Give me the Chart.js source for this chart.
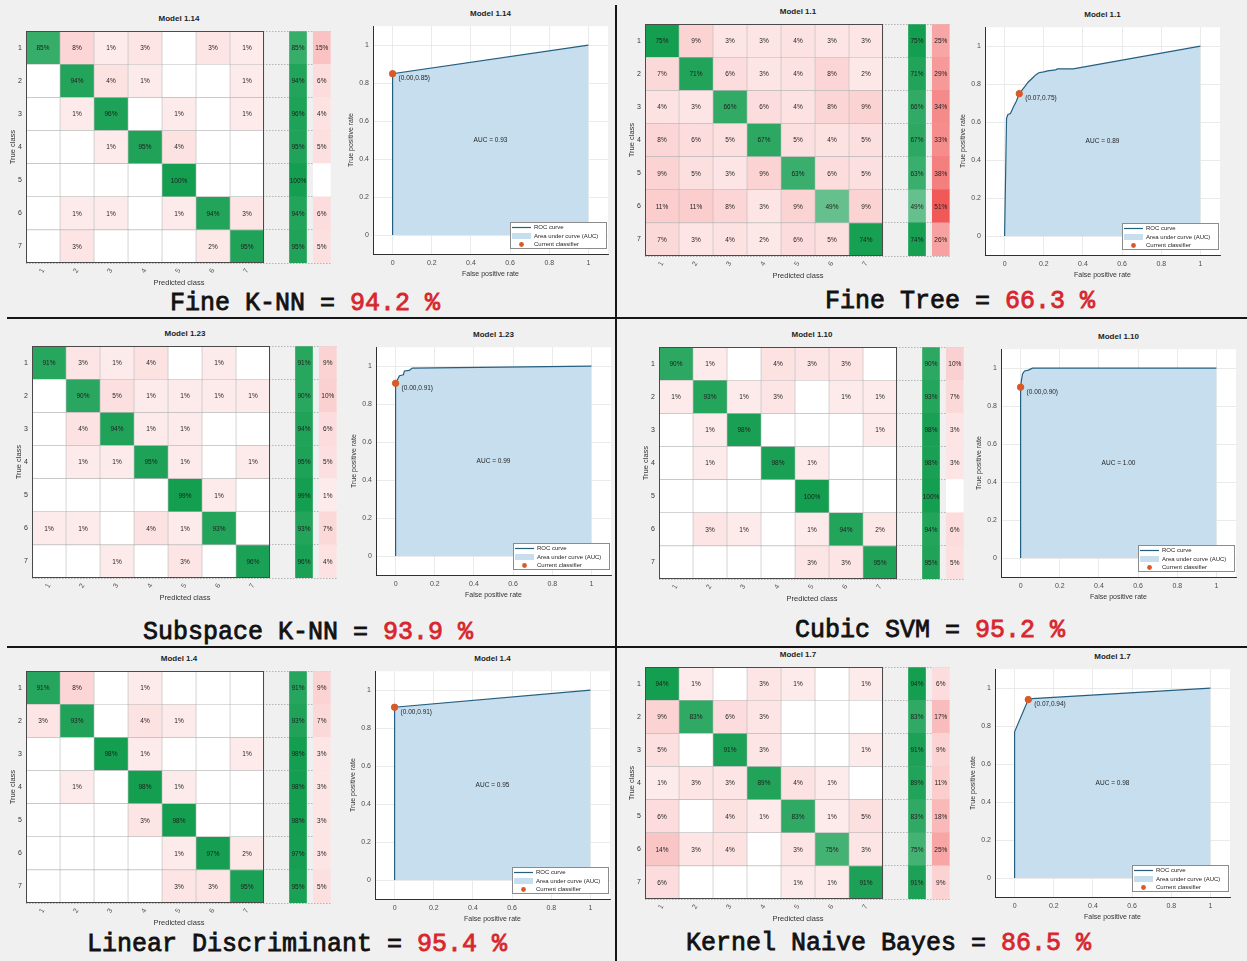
<!DOCTYPE html>
<html><head><meta charset="utf-8"><title>Classifier comparison</title>
<script src="https://cdn.jsdelivr.net/npm/chart.js"></script>
<style>
html,body{margin:0;padding:0;}
body{width:1247px;height:961px;background:#f0f0f0;position:relative;overflow:hidden;font-family:'Liberation Sans',Arial,sans-serif;}
canvas{position:absolute;}
.ttl{position:absolute;font-size:8px;font-weight:bold;color:#1e1e1e;transform:translate(-50%,-50%);white-space:nowrap;line-height:1;}
.cap{position:absolute;font-family:'Liberation Mono','DejaVu Sans Mono',monospace;font-weight:normal;-webkit-text-stroke:0.8px #111;font-size:25px;color:#111;white-space:nowrap;transform:translateY(-50%);line-height:1;}
.cap span{color:#d7262e;-webkit-text-stroke:0.8px #d7262e;}
.rule{position:absolute;background:#161616;}
</style></head>
<body>
<script>
// ---------------- DATA ----------------
const CLASS_LABELS = ['1','2','3','4','5','6','7'];
const ROC_TICKS = [0, 0.2, 0.4, 0.6, 0.8, 1];
const LEGEND_LABELS = ['ROC curve', 'Area under curve (AUC)', 'Current classifier'];

const CLASSIFIERS = ['Fine K-NN', 'Fine Tree', 'Subspace K-NN', 'Cubic SVM', 'Linear Discriminant', 'Kernel Naive Bayes'];
const ACCURACY = [94.2, 66.3, 93.9, 95.2, 95.4, 86.5];
const MODEL_NAMES = ['Model 1.14', 'Model 1.1', 'Model 1.23', 'Model 1.10', 'Model 1.4', 'Model 1.7'];
const AUC = [0.93, 0.89, 0.99, 1.00, 0.95, 0.98];

// Confusion matrices (% of true class row), null = empty cell
const CM_FINE_KNN = [
  [85, 8, 1, 3, null, 3, 1],
  [null, 94, 4, 1, null, null, 1],
  [null, 1, 96, null, 1, null, 1],
  [null, null, 1, 95, 4, null, null],
  [null, null, null, null, 100, null, null],
  [null, 1, 1, null, 1, 94, 3],
  [null, 3, null, null, null, 2, 95]
];
const TPR_FINE_KNN = [85, 94, 96, 95, 100, 94, 95];
const FNR_FINE_KNN = [15, 6, 4, 5, null, 6, 5];

const CM_FINE_TREE = [
  [75, 9, 3, 3, 4, 3, 3],
  [7, 71, 6, 3, 4, 8, 2],
  [4, 3, 66, 6, 4, 8, 9],
  [8, 6, 5, 67, 5, 4, 5],
  [9, 5, 3, 9, 63, 6, 5],
  [11, 11, 8, 3, 9, 49, 9],
  [7, 3, 4, 2, 6, 5, 74]
];
const TPR_FINE_TREE = [75, 71, 66, 67, 63, 49, 74];
const FNR_FINE_TREE = [25, 29, 34, 33, 38, 51, 26];

const CM_SUBSPACE_KNN = [
  [91, 3, 1, 4, null, 1, null],
  [null, 90, 5, 1, 1, 1, 1],
  [null, 4, 94, 1, 1, null, null],
  [null, 1, 1, 95, 1, null, 1],
  [null, null, null, null, 99, 1, null],
  [1, 1, null, 4, 1, 93, null],
  [null, null, 1, null, 3, null, 96]
];
const TPR_SUBSPACE_KNN = [91, 90, 94, 95, 99, 93, 96];
const FNR_SUBSPACE_KNN = [9, 10, 6, 5, 1, 7, 4];

const CM_CUBIC_SVM = [
  [90, 1, null, 4, 3, 3, null],
  [1, 93, 1, 3, null, 1, 1],
  [null, 1, 98, null, null, null, 1],
  [null, 1, null, 98, 1, null, null],
  [null, null, null, null, 100, null, null],
  [null, 3, 1, null, 1, 94, 2],
  [null, null, null, null, 3, 3, 95]
];
const TPR_CUBIC_SVM = [90, 93, 98, 98, 100, 94, 95];
const FNR_CUBIC_SVM = [10, 7, 3, 3, null, 6, 5];

const CM_LINEAR_DISC = [
  [91, 8, null, 1, null, null, null],
  [3, 93, null, 4, 1, null, null],
  [null, null, 98, 1, null, null, 1],
  [null, 1, null, 98, 1, null, null],
  [null, null, null, 3, 98, null, null],
  [null, null, null, null, 1, 97, 2],
  [null, null, null, null, 3, 3, 95]
];
const TPR_LINEAR_DISC = [91, 93, 98, 98, 98, 97, 95];
const FNR_LINEAR_DISC = [9, 7, 3, 3, 3, 3, 5];

const CM_KERNEL_NB = [
  [94, 1, null, 3, 1, null, 1],
  [9, 83, 6, 3, null, null, null],
  [5, null, 91, 3, null, null, 1],
  [1, 3, 3, 89, 4, 1, null],
  [6, null, 4, 1, 83, 1, 5],
  [14, 3, 4, null, 3, 75, 3],
  [6, null, null, null, 1, 1, 91]
];
const TPR_KERNEL_NB = [94, 83, 91, 89, 83, 75, 91];
const FNR_KERNEL_NB = [6, 17, 9, 11, 18, 25, 9];

// ROC curves (class 1 positive)
const ROC_FPR_FINE_KNN = [0, 0, 1];
const ROC_TPR_FINE_KNN = [0, 0.85, 1];
const OP_FINE_KNN = [0.00, 0.85];

const ROC_FPR_FINE_TREE = [0, 0.01, 0.017, 0.03, 0.045, 0.06, 0.075, 0.09, 0.105, 0.12, 0.14, 0.16, 0.175, 0.2, 0.22, 0.26, 0.27, 0.35, 1];
const ROC_TPR_FINE_TREE = [0, 0.62, 0.64, 0.645, 0.68, 0.71, 0.75, 0.77, 0.79, 0.81, 0.83, 0.85, 0.86, 0.865, 0.87, 0.875, 0.88, 0.88, 1];
const OP_FINE_TREE = [0.075, 0.75];

const ROC_FPR_SUBSPACE_KNN = [0, 0, 0.01, 0.02, 0.04, 0.045, 0.07, 0.085, 1];
const ROC_TPR_SUBSPACE_KNN = [0, 0.91, 0.93, 0.95, 0.955, 0.975, 0.978, 0.99, 1];
const OP_SUBSPACE_KNN = [0.00, 0.91];

const ROC_FPR_CUBIC_SVM = [0, 0, 0.005, 0.01, 0.02, 0.04, 0.06, 1];
const ROC_TPR_CUBIC_SVM = [0, 0.90, 0.94, 0.97, 0.985, 0.99, 1, 1];
const OP_CUBIC_SVM = [0.00, 0.90];

const ROC_FPR_LINEAR_DISC = [0, 0, 1];
const ROC_TPR_LINEAR_DISC = [0, 0.91, 1];
const OP_LINEAR_DISC = [0.00, 0.91];

const ROC_FPR_KERNEL_NB = [0, 0, 0.07, 0.09, 1];
const ROC_TPR_KERNEL_NB = [0, 0.77, 0.94, 0.945, 1];
const OP_KERNEL_NB = [0.07, 0.94];

// ---------------- LAYOUT / STYLE ----------------
const FONT = "'Liberation Sans', Arial, sans-serif";
const GREEN = [20, 158, 80];
const RED = [240, 80, 80];
const ROC_LINE = '#245f80';
const AUC_FILL = '#c6deee';
const OP_COLOR = '#d85a28';

const CM_POS = [
  {left: 26, top: 25}, {left: 645, top: 18},
  {left: 32, top: 340}, {left: 659, top: 341},
  {left: 26, top: 665}, {left: 645, top: 661}
];
const ROC_POS = [
  {left: 373, top: 20}, {left: 985, top: 21},
  {left: 376, top: 341}, {left: 1001, top: 343},
  {left: 375, top: 665}, {left: 995, top: 663}
];
const CAP_POS = [
  {left: 170, top: 303}, {left: 825, top: 301},
  {left: 143, top: 632}, {left: 795, top: 630},
  {left: 87, top: 944}, {left: 686, top: 943}
];

Chart.defaults.font.family = FONT;

function addCanvas(x, y, w, h) {
  const c = document.createElement('canvas');
  c.width = w; c.height = h;
  c.style.left = x + 'px'; c.style.top = y + 'px';
  c.style.width = w + 'px'; c.style.height = h + 'px';
  document.body.appendChild(c);
  return c;
}
function addDiv(cls, html, x, y, extra) {
  const d = document.createElement('div');
  d.className = cls; d.innerHTML = html;
  d.style.left = x + 'px'; d.style.top = y + 'px';
  if (extra) Object.assign(d.style, extra);
  document.body.appendChild(d);
  return d;
}
function mix(c, a) {
  a = Math.max(0, Math.min(1, a));
  return `rgb(${Math.round(255 + (c[0] - 255) * a)},${Math.round(255 + (c[1] - 255) * a)},${Math.round(255 + (c[2] - 255) * a)})`;
}
const greenOf = (v, m) => v == null ? '#ffffff' : mix(GREEN, v / m);
const redOf = v => v == null ? '#ffffff' : mix(RED, 0.1 + v / 60);
const pct = v => v == null ? '' : v + '%';

// ---------------- PLUGINS ----------------
const cellPlugin = {
  id: 'cellDecor',
  afterDatasetsDraw(chart) {
    const {ctx, chartArea: ca, scales: {x}} = chart;
    ctx.save();
    ctx.font = `6.5px ${FONT}`;
    ctx.fillStyle = '#1e1e1e';
    ctx.textAlign = 'center';
    ctx.textBaseline = 'middle';
    chart.data.datasets.forEach((ds, di) => {
      chart.getDatasetMeta(di).data.forEach((el, i) => {
        const t = ds.cellText[i];
        if (t) { const p = el.getCenterPoint(); ctx.fillText(t, p.x, p.y + 0.5); }
      });
    });
    const x0 = Math.round(x.getPixelForValue(0)), x1 = Math.round(x.getPixelForValue(7));
    ctx.strokeStyle = '#4a4a4a';
    ctx.lineWidth = 1;
    ctx.strokeRect(x0 + 0.5, Math.round(ca.top) + 0.5, x1 - x0 - 1, Math.round(ca.bottom - ca.top) - 1);
    ctx.restore();
  }
};

const rocPlugin = {
  id: 'rocDecor',
  beforeDraw(chart) {
    const {ctx, chartArea: ca} = chart;
    ctx.save();
    ctx.fillStyle = '#ffffff';
    ctx.fillRect(ca.left, ca.top, ca.right - ca.left, ca.bottom - ca.top);
    ctx.restore();
  },
  afterDatasetsDraw(chart, args, opts) {
    const {ctx, chartArea: ca, scales: {x, y}} = chart;
    ctx.save();
    ctx.fillStyle = '#262626';
    ctx.font = `6.5px ${FONT}`;
    ctx.textBaseline = 'middle';
    ctx.textAlign = 'center';
    ctx.fillText('AUC = ' + opts.auc.toFixed(2), x.getPixelForValue(0.5), y.getPixelForValue(0.5));
    ctx.textAlign = 'left';
    ctx.fillText(`(${opts.op[0].toFixed(2)},${opts.op[1].toFixed(2)})`,
      x.getPixelForValue(opts.op[0]) + 6, y.getPixelForValue(opts.op[1]) + 5);
    // legend box
    const lw = 97, lh = 27;
    const lx = Math.round(ca.right) - 1 - lw, ly = Math.round(ca.bottom) - 5 - lh;
    ctx.fillStyle = '#ffffff';
    ctx.fillRect(lx, ly, lw, lh);
    ctx.strokeStyle = '#8c8c8c';
    ctx.lineWidth = 1;
    ctx.strokeRect(lx + 0.5, ly + 0.5, lw - 1, lh - 1);
    ctx.strokeStyle = ROC_LINE;
    ctx.lineWidth = 1.2;
    ctx.beginPath(); ctx.moveTo(lx + 2, ly + 5.5); ctx.lineTo(lx + 21, ly + 5.5); ctx.stroke();
    ctx.fillStyle = AUC_FILL;
    ctx.fillRect(lx + 2, ly + 11, 19, 6);
    ctx.fillStyle = OP_COLOR;
    ctx.beginPath(); ctx.arc(lx + 11.5, ly + 22.5, 2.4, 0, Math.PI * 2); ctx.fill();
    ctx.fillStyle = '#262626';
    ctx.font = `6px ${FONT}`;
    LEGEND_LABELS.forEach((t, i) => ctx.fillText(t, lx + 24, ly + 5.5 + i * 8.5));
    ctx.restore();
  }
};

// ---------------- BUILDERS ----------------
function makeCM(idx, cm, tpr, fnr) {
  const P = CM_POS[idx];
  const u = 34, yW = 18, xH = 24, pT = 2, pR = 2;
  const W = yW + 9 * u + pR, H = pT + 7 * u + xH;
  const cv = addCanvas(P.left - yW, P.top - pT, W, H);
  const maxDiag = Math.max(...cm.map((r, i) => r[i]));
  const maxTpr = Math.max(...tpr);
  const common = {grouped: false, barPercentage: 1, categoryPercentage: 1, borderSkipped: false};
  const datasets = [];
  for (let j = 0; j < CLASS_LABELS.length; j++) {
    datasets.push(Object.assign({
      data: CLASS_LABELS.map(() => [j, j + 1]),
      backgroundColor: cm.map((row, i) => i === j ? greenOf(row[j], maxDiag) : redOf(row[j])),
      borderColor: '#b9b9b9', borderWidth: 0.6,
      cellText: cm.map(row => pct(row[j]))
    }, common));
  }
  datasets.push(Object.assign({
    data: CLASS_LABELS.map(() => [7.75, 8.25]),
    backgroundColor: tpr.map(v => greenOf(v, maxTpr)),
    borderWidth: 0, cellText: tpr.map(pct)
  }, common));
  datasets.push(Object.assign({
    data: CLASS_LABELS.map(() => [8.45, 8.95]),
    backgroundColor: fnr.map(redOf),
    borderWidth: 0, cellText: fnr.map(pct)
  }, common));

  new Chart(cv, {
    type: 'bar',
    data: {labels: CLASS_LABELS, datasets},
    options: {
      indexAxis: 'y', responsive: false, animation: false, devicePixelRatio: 1,
      layout: {autoPadding: false, padding: {top: pT, right: pR, left: 0, bottom: 0}},
      plugins: {legend: {display: false}, tooltip: {enabled: false}, title: {display: false}},
      scales: {
        x: {
          type: 'linear', min: 0, max: 9, position: 'bottom',
          afterBuildTicks: s => { s.ticks = CLASS_LABELS.map((_, i) => ({value: i + 0.5})); },
          ticks: {callback: (v, i) => CLASS_LABELS[i], autoSkip: false, minRotation: 60, maxRotation: 60,
                  padding: 4, color: '#555', font: {size: 7}},
          grid: {display: false, drawTicks: false},
          border: {display: false},
          title: {display: true, text: 'Predicted class', color: '#333', font: {size: 7.5}, padding: 0},
          afterFit: s => { s.height = xH; }
        },
        y: {
          type: 'category', offset: true,
          ticks: {color: '#333', font: {size: 7}, padding: 4},
          grid: {display: true, offset: true, color: '#9a9a9a', lineWidth: 0.7, drawTicks: false},
          border: {display: false, dash: [1.5, 1.5]},
          title: {display: true, text: 'True class', color: '#333', font: {size: 7.5}, padding: 0},
          afterFit: s => { s.width = yW; }
        }
      }
    },
    plugins: [cellPlugin]
  });
  addDiv('ttl', MODEL_NAMES[idx], P.left + 4.5 * u, P.top - 6);
}

function makeROC(idx, fpr, tpr, op) {
  const P = ROC_POS[idx];
  const yW = 26, xH = 24, pT = 2, pR = 3, bw = 235, bh = 234;
  const cv = addCanvas(P.left - yW, P.top - pT, yW + bw + pR, pT + bh + xH);
  const axisCommon = {
    type: 'linear', min: -0.1, max: 1.1,
    afterBuildTicks: s => { s.ticks = ROC_TICKS.map(v => ({value: v})); },
    grid: {color: '#e4e4e4', lineWidth: 0.8, drawTicks: false},
    border: {display: true, color: '#303030', width: 1}
  };
  new Chart(cv, {
    type: 'line',
    data: {datasets: [
      {data: fpr.map((v, i) => ({x: v, y: tpr[i]})), borderColor: ROC_LINE, borderWidth: 1.2,
       backgroundColor: AUC_FILL, fill: 'origin', pointRadius: 0, tension: 0, order: 2},
      {type: 'scatter', data: [{x: op[0], y: op[1]}], pointRadius: 3.2,
       pointBackgroundColor: OP_COLOR, pointBorderColor: OP_COLOR, backgroundColor: OP_COLOR, borderColor: OP_COLOR, order: 1}
    ]},
    options: {
      responsive: false, animation: false, devicePixelRatio: 1,
      layout: {autoPadding: false, padding: {top: pT, right: pR, left: 0, bottom: 0}},
      plugins: {legend: {display: false}, tooltip: {enabled: false}, rocDecor: {auc: AUC[idx], op}},
      scales: {
        x: Object.assign({}, axisCommon, {
          position: 'bottom',
          ticks: {callback: v => String(v), color: '#4d4d4d', font: {size: 7}, padding: 5, maxRotation: 0, autoSkip: false},
          title: {display: true, text: 'False positive rate', color: '#333', font: {size: 7}, padding: 0},
          afterFit: s => { s.height = xH; }
        }),
        y: Object.assign({}, axisCommon, {
          position: 'left',
          ticks: {callback: v => String(v), color: '#4d4d4d', font: {size: 7}, padding: 4, autoSkip: false},
          title: {display: true, text: 'True positive rate', color: '#333', font: {size: 7}, padding: 0},
          afterFit: s => { s.width = yW; }
        })
      }
    },
    plugins: [rocPlugin]
  });
  addDiv('ttl', MODEL_NAMES[idx], P.left + bw / 2, P.top - 6);
}

// ---------------- BUILD PAGE ----------------
addDiv('rule', '', 7, 317, {width: '1240px', height: '2px'});
addDiv('rule', '', 7, 646, {width: '1240px', height: '2px'});
addDiv('rule', '', 615, 5, {width: '2px', height: '956px'});

const CMS = [CM_FINE_KNN, CM_FINE_TREE, CM_SUBSPACE_KNN, CM_CUBIC_SVM, CM_LINEAR_DISC, CM_KERNEL_NB];
const TPRS = [TPR_FINE_KNN, TPR_FINE_TREE, TPR_SUBSPACE_KNN, TPR_CUBIC_SVM, TPR_LINEAR_DISC, TPR_KERNEL_NB];
const FNRS = [FNR_FINE_KNN, FNR_FINE_TREE, FNR_SUBSPACE_KNN, FNR_CUBIC_SVM, FNR_LINEAR_DISC, FNR_KERNEL_NB];
const ROC_X = [ROC_FPR_FINE_KNN, ROC_FPR_FINE_TREE, ROC_FPR_SUBSPACE_KNN, ROC_FPR_CUBIC_SVM, ROC_FPR_LINEAR_DISC, ROC_FPR_KERNEL_NB];
const ROC_Y = [ROC_TPR_FINE_KNN, ROC_TPR_FINE_TREE, ROC_TPR_SUBSPACE_KNN, ROC_TPR_CUBIC_SVM, ROC_TPR_LINEAR_DISC, ROC_TPR_KERNEL_NB];
const OPS = [OP_FINE_KNN, OP_FINE_TREE, OP_SUBSPACE_KNN, OP_CUBIC_SVM, OP_LINEAR_DISC, OP_KERNEL_NB];

for (let k = 0; k < 6; k++) {
  makeCM(k, CMS[k], TPRS[k], FNRS[k]);
  makeROC(k, ROC_X[k], ROC_Y[k], OPS[k]);
  addDiv('cap', `${CLASSIFIERS[k]} = <span>${ACCURACY[k].toFixed(1)} %</span>`, CAP_POS[k].left, CAP_POS[k].top);
}
</script>
</body></html>
